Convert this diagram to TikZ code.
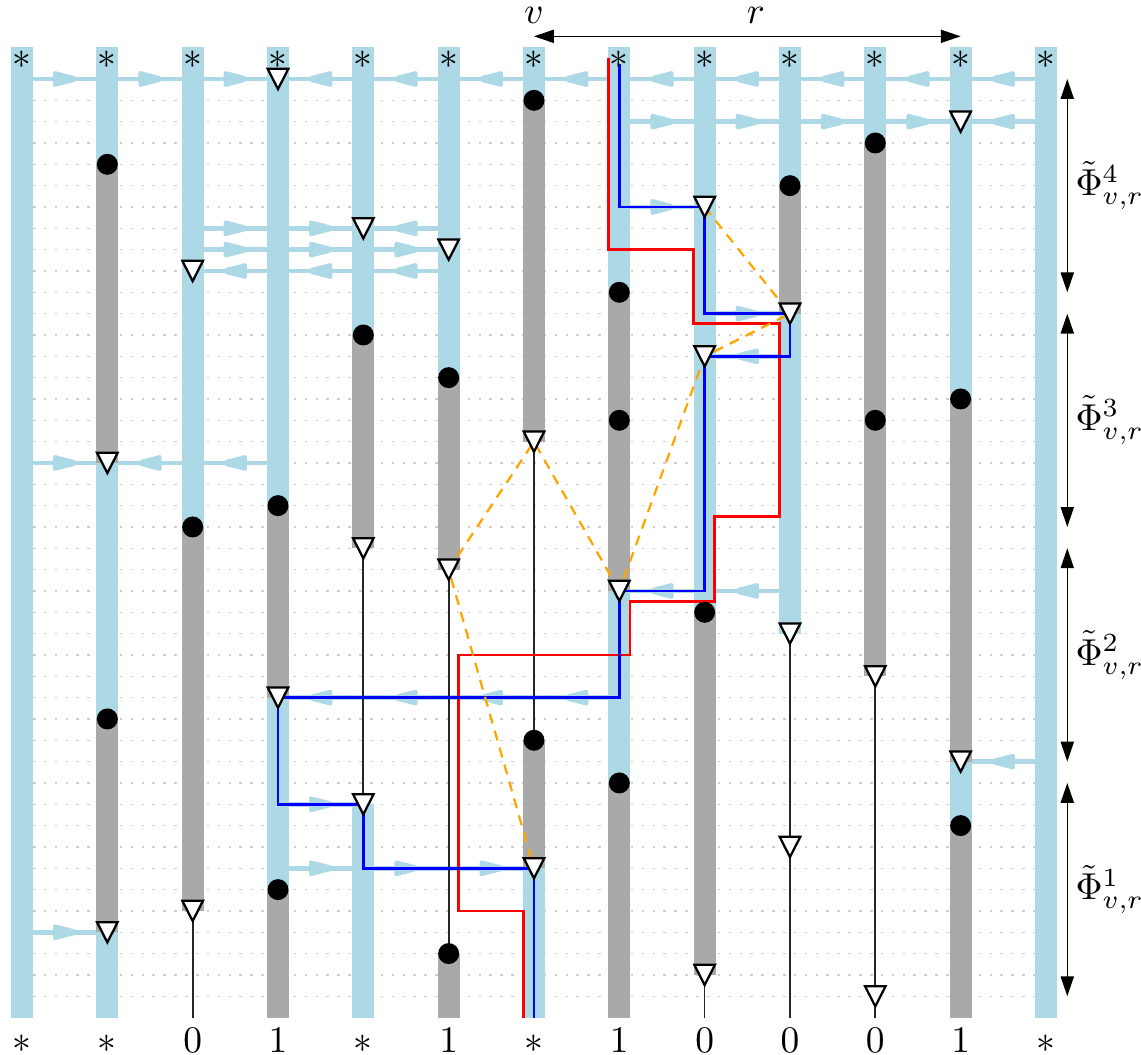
\documentclass[tikz,border=0pt]{standalone}
\usepackage{amsmath}
\usepackage{amssymb}
\usepackage{tikz}
\usetikzlibrary{arrows.meta,decorations.markings}
\definecolor{lanecol}{HTML}{ADD8E6}
\definecolor{deadcol}{HTML}{A9A9A9}
\definecolor{rowcol}{HTML}{CFCFCF}
\definecolor{hopcol}{HTML}{FFA500}
\tikzset{
  lane/.style    = {draw=lanecol, line width=5.9pt},
  dead/.style    = {draw=deadcol, line width=5.9pt},
  wire/.style    = {draw=black!85, line width=0.45pt},
  rowline/.style = {draw=rowcol, line width=0.35pt, dash pattern=on 0.7pt off 2.2pt},
  msg/.style     = {draw=lanecol, line width=1.3pt, postaction={decorate},
                    decoration={markings, mark=at position 0.5 with
                    {\fill[lanecol, rounded corners=0.7pt] (-3.1pt,2.25pt) -- (3.1pt,0.65pt)
                     -- (3.1pt,-0.65pt) -- (-3.1pt,-2.25pt) -- cycle;}}},
  blob/.style    = {circle, fill=black, inner sep=0pt, minimum size=5.6pt},
  trig/.pic      = {\draw[fill=white, line width=0.6pt]
                    (-2.75pt,2.7pt) -- (2.75pt,2.7pt) -- (0pt,-2.7pt) -- cycle;},
  redpath/.style = {draw=red, line width=0.75pt},
  bluepath/.style= {draw=blue, line width=0.75pt},
  hop/.style     = {draw=hopcol, line width=0.6pt, dash pattern=on 2.7pt off 2pt},
  span/.style    = {<->, >={Triangle[length=5.3pt,width=3.5pt]}, line width=0.4pt},
  lab/.style     = {text height=1.5ex, text depth=0pt, inner sep=0pt, anchor=north, yshift=-2.6pt},
  toplab/.style  = {anchor=south, inner sep=0pt, yshift=3.3pt},
}

\begin{document}
\begin{tikzpicture}[x=0.8cm,y=-0.2cm]
  \useasboundingbox (-0.258,-3.703) rectangle (13.114,45.75);
  % time rows
  \foreach \k in {1,...,43}
    \draw[rowline] (0,\k) -- (12,\k);
  % messages: row / left column / direction
  \foreach \k/\c/\d in {0/0/1,0/1/1,0/2/1,0/3/-1,0/4/-1,0/5/-1,0/6/-1,0/7/-1,0/8/-1,0/9/-1,0/10/-1,0/11/-1,
      2/7/1,2/8/1,2/9/1,2/10/1,2/11/-1, 6/7/1, 7/2/1,7/3/1,7/4/-1, 8/2/1,8/3/1,8/4/1,
      9/2/-1,9/3/-1,9/4/-1, 11/8/1, 13/8/-1, 18/0/1,18/1/-1,18/2/-1, 24/7/-1,24/8/-1,
      29/3/-1,29/4/-1,29/5/-1,29/6/-1, 32/11/-1, 34/3/1, 37/3/1,37/4/1,37/5/1, 40/0/1}
    \draw[msg] ({\c+0.5-0.5*\d},\k) -- ({\c+0.5+0.5*\d},\k);
  % processes
  \foreach \c/\a/\b/\s in {0/-1.5/44/lane,
      1/-1.5/4/lane,1/4/18/dead,1/18/30/lane,1/30/40/dead,1/40/44/lane,
      2/-1.5/21/lane,2/21/39/dead,2/39/44/wire,
      3/-1.5/20/lane,3/20/29/dead,3/29/38/lane,3/38/44/dead,
      4/-1.5/12/lane,4/12/22/dead,4/22/34/wire,4/34/44/lane,
      5/-1.5/14/lane,5/14/23/dead,5/23/41/wire,5/41/44/dead,
      6/-1.5/1/lane,6/1/17/dead,6/17/31/wire,6/31/37/dead,6/37/44/lane,
      7/-1.5/10/lane,7/10/24/dead,7/24/33/lane,7/33/44/dead,
      8/-1.5/25/lane,8/25/42/dead,8/42/44/wire,
      9/-1.5/5/lane,9/5/11/dead,9/11/26/lane,9/26/44/wire,
      10/-1.5/3/lane,10/3/28/dead,10/28/44/wire,
      11/-1.5/15/lane,11/15/32/dead,11/32/35/lane,11/35/44/dead,
      12/-1.5/44/lane}
    \draw[\s] (\c,\a) -- (\c,\b);
  \foreach \c/\k in {3/0,11/2,8/6,4/7,5/8,2/9,9/11,8/13,6/17,1/18,4/22,5/23,7/24,9/26,
      10/28,3/29,11/32,4/34,9/36,6/37,2/39,1/40,8/42,10/43}
    \coordinate (t\c-\k) at (\c,\k);
  \coordinate (b0) at (7,-0.7);
  \coordinate (b1) at (6,44);
  % red boundary
  \draw[redpath] (6.875,-1) |- (7.867,8) |- (8.875,11.45) |- (8.12,20.5) |- (7.125,24.5)
    |- (5.12,27) |- (5.875,39) -- (5.875,44);
  % blue chain
  \draw[bluepath] (b0) |- (t8-6) |- (t9-11) |- (t8-13) |- (t7-24) |- (t3-29) |- (t4-34)
    |- (t6-37) -- (b1);
  \draw[hop] (t8-6) -- (t9-11) -- (t8-13) -- (t7-24);
  \draw[hop] (t7-24) -- (t6-17) -- (t5-23) -- (t6-37);
  \foreach \c/\k in {1/4,1/30,2/21,3/20,3/38,4/12,5/14,5/41,6/1,6/31,7/10,7/16,7/33,
      8/25,9/5,10/3,10/16,11/15,11/35}
    \node[blob] (d\c-\k) at (\c,\k) {};
  \foreach \c/\k in {3/0,11/2,8/6,4/7,5/8,2/9,9/11,8/13,6/17,1/18,4/22,5/23,7/24,9/26,
      10/28,3/29,11/32,4/34,9/36,6/37,2/39,1/40,8/42,10/43}
    \pic at (t\c-\k) {trig};
  % labels
  \foreach \c in {0,...,12}
    \node[below, inner sep=1pt] (top\c) at (\c,-1.5) {$*$};
  \foreach \c/\t in {0/*,1/*,2/0,3/1,4/*,5/1,6/*,7/1,8/0,9/0,10/0,11/1,12/*}
    \node[lab] (bot\c) at (\c,44) {$\t$};
  \coordinate (va) at (6,-2);
  \coordinate (ra) at (11,-2);
  \draw[span] (va) -- (ra);
  \node[toplab] (vl) at (va) {$v$};
  \node[toplab] (rl) at (8.6,-2) {$r$};
  \foreach \i/\a/\b in {4/0/10,3/11/21,2/22/32,1/33/43}{
    \coordinate (ph\i-a) at (12.25,\a);
    \coordinate (ph\i-b) at (12.25,\b);
    \draw[span] (ph\i-a) -- (ph\i-b) node[midway, right, inner sep=2pt] (phl\i) {$\tilde{\Phi}^{\i}_{v,r}$};
  }
\end{tikzpicture}
\end{document}
